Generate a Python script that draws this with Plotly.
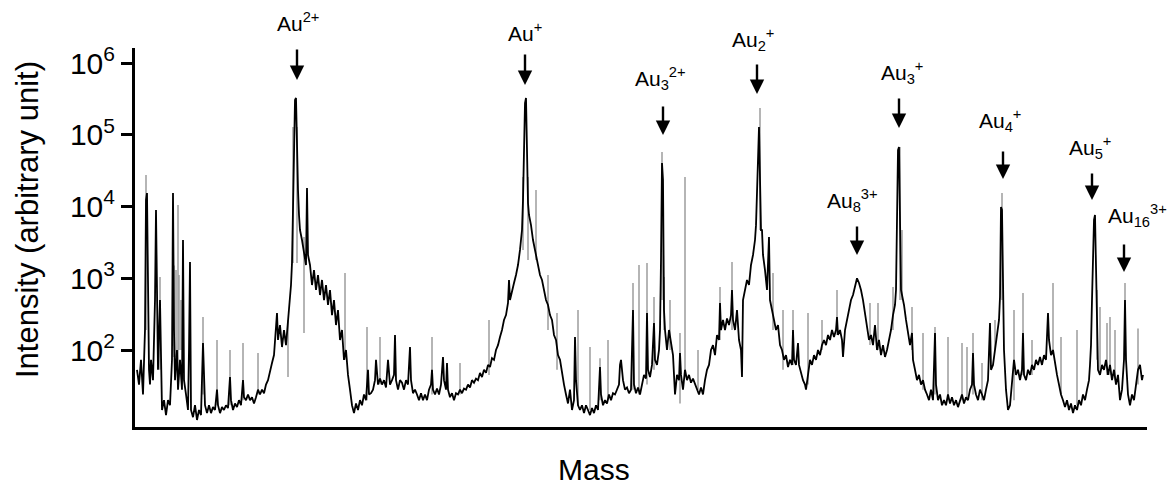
import plotly.graph_objects as go

# ---------------- data ----------------
mass = [
    137, 139, 141, 143, 145, 146, 147, 148, 149, 150,
    151, 153, 155, 156, 157, 158, 160, 161, 162, 164,
    166, 168, 170, 172, 173, 174, 175, 177, 178, 180,
    182, 183, 184, 186, 188, 189, 190, 191, 193, 195,
    197, 199, 201, 203, 204, 205, 207, 209, 211, 213,
    215, 217, 218, 220, 222, 224, 226, 228, 230, 231,
    233, 235, 237, 239, 241, 243, 244, 246, 248, 250,
    252, 254, 256, 258, 260, 262, 264, 266, 268, 270,
    272, 274, 276, 277, 278, 280, 282, 284, 286, 288,
    290, 291, 292, 293, 294, 295, 296, 297, 298, 299,
    300, 302, 304, 306, 307, 308, 310, 312, 314, 316,
    318, 320, 322, 324, 326, 328, 330, 332, 334, 336,
    338, 340, 342, 344, 346, 348, 350, 352, 354, 356,
    358, 360, 362, 364, 366, 368, 369, 371, 373, 375,
    376, 378, 380, 382, 384, 386, 388, 390, 392, 394,
    395, 396, 398, 400, 402, 404, 406, 408, 410, 411,
    413, 415, 417, 419, 421, 423, 425, 427, 429, 431,
    432, 433, 435, 437, 439, 441, 443, 444, 446, 447,
    448, 450, 452, 454, 456, 458, 460, 462, 464, 466,
    468, 470, 472, 474, 476, 478, 480, 482, 484, 486,
    488, 490, 492, 494, 496, 498, 500, 502, 504, 506,
    508, 509, 510, 512, 514, 516, 518, 520, 522, 523,
    524, 525, 526, 527, 528, 529, 531, 533, 535, 536,
    538, 540, 542, 544, 546, 548, 550, 552, 554, 556,
    558, 560, 562, 564, 566, 568, 570, 572, 574, 575,
    576, 578, 580, 582, 584, 586, 588, 590, 592, 594,
    596, 598, 600, 601, 603, 605, 607, 609, 611, 613,
    615, 617, 619, 620, 621, 622, 623, 625, 627, 629,
    631, 633, 634, 636, 638, 640, 642, 644, 646, 647,
    648, 650, 652, 654, 655, 657, 659, 660, 661, 662,
    663, 664, 665, 667, 669, 671, 673, 675, 677, 679,
    680, 681, 683, 685, 687, 689, 691, 693, 695, 697,
    699, 701, 703, 705, 707, 709, 711, 713, 715, 717,
    719, 720, 721, 723, 725, 727, 729, 731, 732, 733,
    735, 737, 739, 741, 742, 743, 745, 747, 749, 751,
    753, 755, 756, 757, 758, 759, 760, 761, 762, 763,
    765, 767, 769, 770, 772, 774, 776, 778, 780, 782,
    784, 786, 788, 790, 792, 793, 794, 796, 798, 799,
    801, 803, 805, 806, 808, 810, 812, 814, 816, 818,
    820, 822, 824, 826, 828, 830, 832, 834, 836, 837,
    838, 840, 842, 843, 845, 847, 849, 851, 853, 855,
    857, 859, 861, 863, 865, 867, 869, 871, 873, 875,
    877, 879, 881, 883, 885, 887, 889, 891, 893, 895,
    896, 897, 898, 899, 900, 901, 902, 904, 906, 908,
    910, 912, 913, 915, 917, 919, 921, 923, 925, 927,
    929, 931, 933, 935, 936, 938, 940, 942, 944, 946,
    948, 950, 952, 954, 956, 958, 960, 962, 964, 966,
    968, 970, 972, 973, 974, 976, 978, 980, 982, 984,
    986, 988, 990, 991, 993, 995, 997, 999, 1000, 1001,
    1002, 1003, 1004, 1006, 1008, 1010, 1012, 1014, 1016, 1018,
    1020, 1022, 1023, 1024, 1026, 1028, 1030, 1032, 1034, 1036,
    1038, 1040, 1042, 1044, 1046, 1048, 1049, 1051, 1053, 1055,
    1057, 1059, 1061, 1063, 1065, 1067, 1069, 1071, 1073, 1075,
    1077, 1079, 1081, 1083, 1085, 1087, 1089, 1090, 1091, 1092,
    1093, 1094, 1095, 1096, 1097, 1098, 1100, 1102, 1104, 1106,
    1108, 1110, 1112, 1114, 1116, 1118, 1120, 1122, 1124, 1125,
    1126, 1128, 1130, 1132, 1134, 1136, 1138, 1140, 1142, 1143,
]

intensity = [
    53, 33, 73, 24, 190, 12300, 15400, 1800, 53, 33,
    73, 38, 497, 8930, 946, 53, 497, 73, 14.6, 20,
    12.4, 20, 17, 73, 15400, 190, 38, 100, 28, 73,
    28, 3410, 38, 24, 14.6, 100, 1680, 14.6, 11.6, 17,
    10.6, 14.6, 12.4, 125, 38, 17, 13.2, 17, 13.2, 16,
    14.6, 28, 17, 13.2, 16, 14.6, 17, 15.5, 42, 20,
    14.6, 18, 16, 20, 17, 38, 22, 20, 24, 20,
    22, 18, 22, 28, 24, 28, 25, 33, 38, 48,
    66, 85, 190, 328, 138, 223, 110, 190, 117, 262,
    497, 805, 1630, 12300, 116000, 305000, 325000, 44500, 17000, 7620,
    4700, 3410, 2110, 1530, 18100, 2110, 1530, 805, 1300, 686,
    1110, 584, 946, 497, 805, 424, 686, 307, 497, 223,
    361, 138, 190, 73, 100, 45, 28, 17, 13.2, 18,
    14.6, 20, 17, 24, 20, 53, 24, 25, 28, 38,
    73, 33, 40, 33, 38, 30, 73, 33, 38, 45,
    162, 38, 28, 38, 35, 28, 38, 33, 110, 38,
    25, 28, 24, 20, 25, 20, 24, 20, 28, 33,
    53, 28, 24, 29, 24, 33, 80, 38, 28, 66,
    28, 22, 25, 20, 25, 24, 28, 25, 29, 28,
    33, 30, 38, 35, 40, 38, 48, 42, 53, 48,
    62, 58, 77, 73, 100, 117, 152, 190, 262, 307,
    452, 946, 497, 686, 859, 1110, 1530, 2480, 4700, 12300,
    61000, 277000, 325000, 61000, 11200, 7620, 5500, 3410, 2480, 2110,
    1680, 1110, 946, 686, 497, 424, 307, 262, 162, 138,
    85, 73, 45, 33, 24, 18, 28, 14.6, 20, 152,
    38, 17, 14.6, 17, 13.2, 17, 14.6, 12.4, 15.5, 13.2,
    17, 14.6, 58, 24, 17, 20, 18, 24, 20, 25,
    24, 28, 33, 62, 73, 53, 38, 28, 30, 25,
    28, 361, 33, 25, 30, 24, 33, 45, 40, 328,
    53, 42, 62, 238, 73, 62, 100, 190, 1800, 40400,
    23400, 361, 190, 100, 190, 117, 85, 24, 45, 38,
    91, 45, 28, 53, 38, 45, 35, 40, 33, 28,
    24, 30, 24, 38, 53, 62, 100, 117, 85, 162,
    138, 452, 190, 262, 190, 275, 223, 307, 686, 262,
    190, 361, 138, 100, 42, 497, 686, 946, 805, 1530,
    2110, 3410, 5500, 12300, 44500, 128000, 32300, 4700, 4700, 2110,
    1300, 686, 3760, 497, 361, 262, 190, 223, 117, 100,
    73, 85, 58, 73, 62, 190, 73, 62, 125, 62,
    48, 38, 33, 28, 45, 73, 62, 85, 73, 100,
    85, 117, 138, 117, 162, 138, 190, 152, 190, 288,
    162, 190, 138, 80, 190, 262, 361, 497, 584, 805,
    1000, 859, 686, 497, 307, 223, 138, 162, 117, 223,
    100, 138, 85, 117, 80, 100, 138, 190, 307, 424,
    686, 5180, 61000, 67500, 5180, 686, 584, 424, 262, 162,
    117, 173, 73, 53, 38, 45, 33, 38, 28, 24,
    20, 28, 20, 173, 33, 20, 24, 17, 20, 17,
    24, 18, 22, 17, 20, 16, 20, 24, 18, 22,
    20, 28, 33, 91, 33, 24, 20, 28, 24, 20,
    28, 38, 238, 53, 62, 100, 138, 262, 548, 9800,
    8930, 548, 100, 28, 14.6, 17, 38, 73, 45, 53,
    38, 53, 173, 45, 38, 53, 45, 62, 53, 73,
    62, 80, 62, 85, 73, 328, 138, 85, 100, 62,
    45, 33, 24, 20, 16, 20, 14.6, 18, 13.2, 17,
    14.6, 20, 17, 24, 20, 28, 38, 62, 117, 497,
    2480, 6490, 7620, 946, 138, 53, 45, 62, 53, 73,
    45, 62, 38, 53, 33, 45, 20, 28, 73, 497,
    73, 24, 17, 24, 20, 33, 53, 62, 38, 45,
]

# grey (unresolved) spikes: position, low end, high end
spike_mass = [146, 160, 174, 176, 178, 179, 181, 203, 217, 230, 243, 258, 288,
              293, 297, 304, 345, 367, 380, 432, 460, 489, 523, 528, 536, 548,
              557, 578, 590, 600, 608, 633, 639, 647, 654, 662, 664, 670, 680,
              685, 698, 720, 732, 760, 773, 783, 793, 808, 822, 837, 870, 878,
              893, 900, 902, 912, 923, 935, 948, 962, 967, 973, 982, 995, 1002,
              1014, 1023, 1032, 1053, 1061, 1077, 1097, 1100, 1107, 1110, 1115,
              1125, 1138]
spike_low = [190, 53, 80, 80, 38, 100, 100, 24, 17, 17, 20, 24, 42,
             1630, 1630, 173, 73, 20, 33, 24, 24, 45, 2480, 1800, 1800, 190,
             53, 17, 14.6, 20, 20, 28, 24, 33, 53, 497, 190, 100, 18,
             53, 28, 138, 190, 4700, 190, 53, 62, 33, 100, 162, 117, 100,
             190, 497, 497, 100, 28, 24, 20, 20, 20, 24, 20, 100, 497,
             20, 45, 45, 85, 24, 17, 73, 45, 45, 45, 38,
             73, 33]
spike_high = [27500, 1040, 1500, 1300, 10500, 1110, 497, 288, 138, 100, 125, 91, 262,
              128000, 128000, 3760, 1180, 209, 152, 152, 66, 262, 25800, 25800, 17000, 1110,
              328, 361, 110, 77, 138, 859, 1530, 1630, 548, 57500, 1040, 497, 173,
              25800, 100, 755, 1680, 236000, 1180, 361, 361, 328, 262, 686, 452, 452,
              755, 67500, 4700, 397, 173, 209, 152, 125, 110, 173, 66, 262, 15400,
              361, 622, 138, 859, 152, 190, 686, 397, 238, 288, 190,
              859, 200]

label_text = ["Au<sup>2+</sup>", "Au<sup>+</sup>", "Au<sub>3</sub><sup>2+</sup>",
              "Au<sub>2</sub><sup>+</sup>", "Au<sub>8</sub><sup>3+</sup>",
              "Au<sub>3</sub><sup>+</sup>", "Au<sub>4</sub><sup>+</sup>",
              "Au<sub>5</sub><sup>+</sup>", "Au<sub>16</sub><sup>3+</sup>"]
label_mass = [297, 525, 663, 757, 857, 899, 1003, 1092, 1124]

y_tick_vals = [1e2, 1e3, 1e4, 1e5, 1e6]
y_tick_text = ["10<sup>2</sup>", "10<sup>3</sup>", "10<sup>4</sup>",
               "10<sup>5</sup>", "10<sup>6</sup>"]

# ---------------- layout helpers (pixel geometry of the figure) ----------------
W, H = 1173, 486
L, R, T, B = 135, 1147, 48, 427


def py_to_paper(py):
    return (B - py) / (B - T)


# label text centre x (px), text centre y (px), arrow tail y, arrow head y
label_geom = [
    (298, 22, 48, 80),
    (525, 32, 53, 85),
    (660, 78, 105, 135),
    (753, 40, 63, 94),
    (852, 200, 225, 255),
    (902, 72, 97, 128),
    (1000, 120, 150, 179),
    (1090, 147, 172, 200),
    (1137, 215, 243, 272),
]

FONT = "Liberation Sans, Arial, Helvetica, sans-serif"

fig = go.Figure()

# grey spikes built from the spike arrays
sx, sy = [], []
for m, lo, hi in zip(spike_mass, spike_low, spike_high):
    sx += [m, m, None]
    sy += [lo, hi, None]
fig.add_trace(go.Scatter(x=sx, y=sy, mode="lines",
                         line=dict(color="#9c9c9c", width=1.5),
                         hoverinfo="skip", showlegend=False))

fig.add_trace(go.Scatter(x=mass, y=intensity, mode="lines",
                         line=dict(color="black", width=1.8),
                         showlegend=False))

annotations = []
for txt, m, (tx, ty, atop, ahead) in zip(label_text, label_mass, label_geom):
    annotations.append(dict(
        x=tx, xref="x", y=py_to_paper(ty), yref="paper",
        text=txt, showarrow=False, xanchor="center", yanchor="middle",
        font=dict(family=FONT, size=21, color="black")))
    annotations.append(dict(
        x=m, xref="x", y=py_to_paper(ahead), yref="paper", text="",
        showarrow=True, ax=0, ay=-(ahead - atop), arrowhead=2,
        arrowsize=1.2, arrowwidth=2.4, arrowcolor="black"))

# axis titles
annotations.append(dict(x=(594 - L) / (R - L), xref="paper", y=py_to_paper(469), yref="paper",
                        text="Mass", showarrow=False, xanchor="center", yanchor="middle",
                        font=dict(family=FONT, size=30, color="black")))
annotations.append(dict(x=(28 - L) / (R - L), xref="paper", y=py_to_paper(220), yref="paper",
                        text="Intensity (arbitrary unit)", textangle=-90, showarrow=False,
                        xanchor="center", yanchor="middle",
                        font=dict(family=FONT, size=31, color="black")))

fig.update_layout(
    width=W, height=H,
    margin=dict(l=L, r=W - R, t=T, b=H - B),
    paper_bgcolor="white", plot_bgcolor="white",
    annotations=annotations,
    xaxis=dict(range=[L, R], showticklabels=False, ticks="", showgrid=False,
               zeroline=False, showline=True, linecolor="black", linewidth=3),
    yaxis=dict(type="log", range=[0.927, 6.209], tickvals=y_tick_vals,
               ticktext=y_tick_text, ticks="outside", ticklen=11, tickwidth=2.5,
               tickcolor="black", showgrid=False, zeroline=False, showline=True,
               linecolor="black", linewidth=3,
               tickfont=dict(family=FONT, size=30, color="black")),
)

fig.write_html("out.html", config={"displayModeBar": False},
               post_script="document.body.style.margin='0px';"
                           "document.body.style.overflow='hidden';")
